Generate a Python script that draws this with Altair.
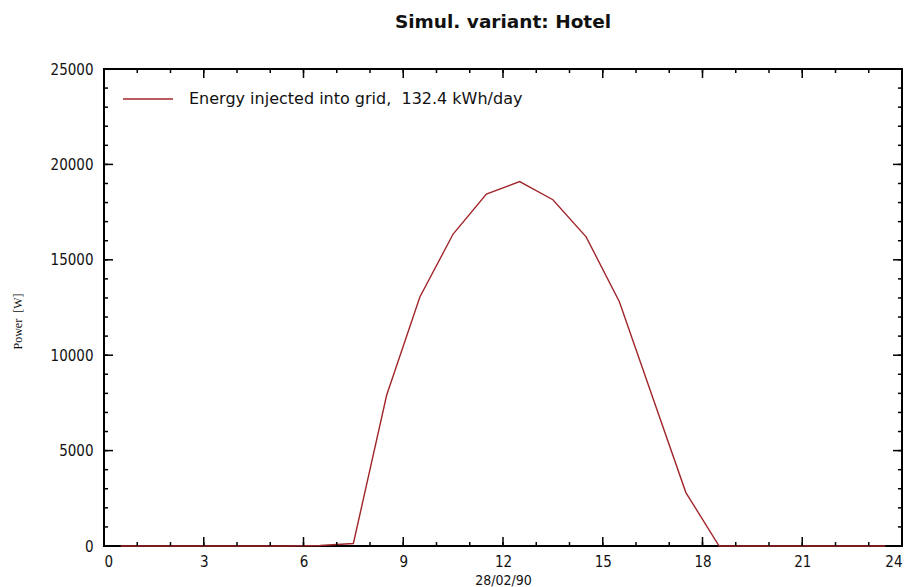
import altair as alt
import pandas as pd

# ---- data ----
hours = [0.5, 1.5, 2.5, 3.5, 4.5, 5.5, 6.5, 7.5, 8.5, 9.5, 10.5, 11.5,
         12.5, 13.5, 14.5, 15.5, 16.5, 17.5, 18.5, 19.5, 20.5, 21.5, 22.5, 23.5]
power = [0, 0, 0, 0, 0, 0, 30, 130, 7900, 13050, 16350, 18450,
         19100, 18150, 16200, 12800, 7800, 2800, 0, 0, 0, 0, 0, 0]
series_label = "Energy injected into grid,\u00a0 132.4 kWh/day"

x_major = [0, 3, 6, 9, 12, 15, 18, 21, 24]
x_minor = list(range(0, 25))
y_major = [0, 5000, 10000, 15000, 20000, 25000]
y_minor = list(range(0, 25001, 1000))

W, H = 798, 477
RED = "#A0262B"
NARROW = "Liberation Sans Narrow, DejaVu Sans Condensed, Arial Narrow, sans-serif"

df = pd.DataFrame({"hour": hours, "power": power, "series": [series_label] * len(hours)})

x_scale = alt.Scale(domain=[0, 24], nice=False, zero=False)
y_scale = alt.Scale(domain=[0, 25000], nice=False)

x_axis = alt.Axis(values=x_major, ticks=False, domain=False, grid=False,
                  labelPadding=8, labelFont=NARROW, labelFontSize=15,
                  labelColor="#111", title="28/02/90", titleFont=NARROW,
                  titleFontSize=14, titleFontWeight="normal", titleColor="#111",
                  titlePadding=4)
y_axis = alt.Axis(values=y_major, ticks=False, domain=False, grid=False,
                  labelPadding=11, format="d", labelFont=NARROW, labelFontSize=15,
                  labelColor="#111", title="Power\u00a0 [W]", titleFont="Liberation Serif",
                  titleFontSize=12, titleFontWeight="normal", titleColor="#111",
                  titleAngle=270, titleX=-87, titleY=252, titleAlign="center",
                  titleBaseline="middle")

line = alt.Chart(df).mark_line(strokeWidth=1.4).encode(
    x=alt.X("hour:Q", scale=x_scale, axis=x_axis),
    y=alt.Y("power:Q", scale=y_scale, axis=y_axis),
    color=alt.Color("series:N", scale=alt.Scale(domain=[series_label], range=[RED]),
                    legend=alt.Legend(title=None, orient="none", legendX=18, legendY=4,
                                      symbolType="stroke", symbolSize=2500,
                                      symbolStrokeWidth=1.4, labelFont="DejaVu Sans",
                                      labelFontSize=16, labelColor="#111", labelOffset=15,
                                      padding=0, labelLimit=0)),
)


def xticks(vals, length, top):
    d = pd.DataFrame({"v": vals})
    if top:
        yy, yy2 = 0, length
    else:
        yy, yy2 = H, H - length
    return alt.Chart(d).mark_rule(color="black", strokeWidth=1.5).encode(
        x=alt.X("v:Q", scale=x_scale, axis=x_axis),
        y=alt.value(yy), y2=alt.value(yy2))


def yticks(vals, length, right):
    d = pd.DataFrame({"v": vals})
    if right:
        xx, xx2 = W, W - length
    else:
        xx, xx2 = 0, length
    return alt.Chart(d).mark_rule(color="black", strokeWidth=1.5).encode(
        y=alt.Y("v:Q", scale=y_scale, axis=y_axis),
        x=alt.value(xx), x2=alt.value(xx2))


chart = alt.layer(
    line,
    xticks(x_minor, 4, False), xticks(x_major, 9, False),
    xticks(x_minor, 4, True), xticks(x_major, 9, True),
    yticks(y_minor, 4, False), yticks(y_major, 9, False),
    yticks(y_minor, 4, True), yticks(y_major, 9, True),
).properties(
    width=W, height=H,
    background="white",
    title=alt.TitleParams("Simul. variant: Hotel", font="DejaVu Sans", fontSize=18.5,
                          fontWeight="bold", anchor="middle", color="#111",
                          baseline="alphabetic", offset=16),
    autosize=alt.AutoSizeParams(type="none"),
    padding={"left": 96, "top": 61, "right": 3, "bottom": 41},
).configure_view(stroke="black", strokeWidth=2)

chart.save("out.html", embed_options={"renderer": "svg", "actions": False})
